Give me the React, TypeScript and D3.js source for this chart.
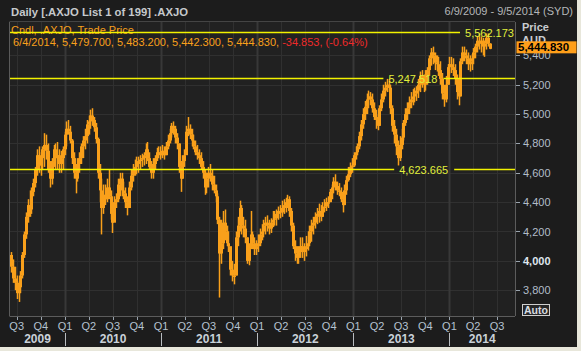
import React from "react";
import * as d3 from "d3";

// weekly bars: [high, low, close]; open = previous close
const firstOpen = 4040;
const bars2009 = [
  [4060, 3920, 3960], [4010, 3850, 3880], [3960, 3800, 3850], [3900, 3740, 3780], [3860, 3720, 3820],
  [3930, 3780, 3900], [4060, 3880, 4040], [4200, 4020, 4180], [4330, 4150, 4300], [4420, 4260, 4380],
  [4480, 4300, 4350], [4500, 4320, 4470], [4560, 4440, 4530], [4640, 4500, 4620], [4760, 4580, 4720],
  [4780, 4600, 4650], [4740, 4580, 4700], [4780, 4620, 4760], [4870, 4640, 4790], [4860, 4690, 4750],
  [4800, 4600, 4620], [4680, 4500, 4560], [4700, 4520, 4680], [4790, 4640, 4760], [4800, 4620, 4700],
  [4810, 4620, 4720], [4760, 4600, 4660], [4750, 4600, 4700], [4780, 4620, 4760], [4880, 4720, 4860],
];
const bars2010 = [
  [4950, 4780, 4900], [4960, 4860, 4880], [4920, 4800, 4820], [4830, 4660, 4700], [4740, 4560, 4600],
  [4640, 4460, 4560], [4700, 4540, 4660], [4740, 4600, 4700], [4800, 4660, 4780], [4850, 4700, 4820],
  [4900, 4760, 4850], [4960, 4800, 4930], [4990, 4860, 4950], [5030, 4900, 4990], [5040, 4920, 4960],
  [4980, 4880, 4910], [4940, 4800, 4830], [4840, 4560, 4600], [4660, 4400, 4480], [4560, 4180, 4360],
  [4520, 4320, 4450], [4520, 4380, 4420], [4560, 4400, 4500], [4620, 4420, 4440], [4480, 4280, 4320],
  [4400, 4190, 4260], [4440, 4280, 4400], [4460, 4360, 4420], [4560, 4400, 4520], [4600, 4440, 4560],
  [4600, 4440, 4480], [4540, 4420, 4460], [4500, 4360, 4400], [4440, 4310, 4360], [4540, 4380, 4500],
  [4620, 4480, 4580], [4660, 4540, 4620], [4690, 4580, 4640], [4710, 4590, 4660], [4710, 4600, 4680],
  [4720, 4620, 4690], [4730, 4640, 4700], [4740, 4650, 4720], [4800, 4660, 4760], [4810, 4680, 4700],
  [4740, 4620, 4640], [4680, 4560, 4600], [4700, 4560, 4660], [4720, 4620, 4700], [4770, 4680, 4740],
  [4780, 4700, 4740], [4780, 4690, 4720],
];
const bars2011 = [
  [4790, 4700, 4750], [4780, 4690, 4720], [4810, 4720, 4780], [4860, 4760, 4820], [4900, 4800, 4870],
  [4940, 4840, 4920], [4950, 4860, 4900], [4920, 4800, 4840], [4870, 4760, 4800], [4800, 4600, 4640],
  [4680, 4470, 4560], [4720, 4560, 4680], [4760, 4640, 4720], [4920, 4760, 4880], [4980, 4850, 4900],
  [4930, 4830, 4860], [4900, 4780, 4820], [4860, 4760, 4780], [4820, 4720, 4740], [4790, 4690, 4720],
  [4760, 4660, 4700], [4740, 4620, 4640], [4680, 4560, 4600], [4620, 4450, 4500], [4600, 4460, 4560],
  [4640, 4500, 4600], [4660, 4540, 4580], [4620, 4480, 4520], [4580, 4460, 4480], [4520, 4400, 4440],
  [4460, 4250, 4280], [4300, 3750, 4050], [4280, 3980, 4120], [4340, 4080, 4260], [4350, 4140, 4200],
  [4240, 4100, 4120], [4200, 4060, 4100], [4080, 3900, 3940], [4000, 3860, 3900], [3980, 3840, 3900],
  [4200, 3900, 4160], [4300, 4100, 4240], [4410, 4200, 4360], [4380, 4180, 4240], [4300, 4160, 4220],
  [4280, 4120, 4160], [4160, 3980, 4000], [4120, 3970, 4080], [4340, 4120, 4180], [4200, 4100, 4120],
  [4160, 4040, 4080], [4140, 4040, 4100],
];
const bars2012 = [
  [4180, 4060, 4120], [4220, 4100, 4180], [4250, 4140, 4200], [4280, 4160, 4240], [4300, 4180, 4260],
  [4310, 4200, 4240], [4280, 4180, 4220], [4290, 4190, 4260], [4340, 4230, 4280], [4340, 4240, 4290],
  [4350, 4240, 4320], [4370, 4280, 4340], [4380, 4290, 4330], [4410, 4300, 4360], [4420, 4320, 4380],
  [4430, 4330, 4400], [4450, 4360, 4420], [4440, 4300, 4340], [4360, 4200, 4240], [4260, 4080, 4100],
  [4140, 4000, 4050], [4100, 3980, 4020], [4100, 3980, 4060], [4160, 4020, 4100], [4160, 4020, 4060],
  [4120, 4000, 4080], [4170, 4030, 4100], [4200, 4070, 4120], [4240, 4100, 4200], [4280, 4130, 4240],
  [4300, 4180, 4260], [4330, 4220, 4300], [4360, 4250, 4320], [4390, 4260, 4340], [4380, 4270, 4300],
  [4400, 4300, 4360], [4420, 4330, 4370], [4430, 4340, 4400], [4440, 4360, 4400], [4490, 4400, 4470],
  [4520, 4420, 4500], [4570, 4460, 4540], [4590, 4480, 4510], [4540, 4450, 4480], [4530, 4440, 4470],
  [4500, 4400, 4420], [4460, 4330, 4380], [4520, 4380, 4480], [4580, 4450, 4550], [4640, 4540, 4590],
  [4670, 4570, 4640], [4700, 4600, 4650],
];
const bars2013 = [
  [4740, 4640, 4720], [4780, 4690, 4740], [4800, 4720, 4780], [4880, 4760, 4850], [4960, 4820, 4930],
  [5040, 4900, 5000], [5090, 4960, 5050], [5140, 5000, 5100], [5160, 5040, 5120], [5150, 5060, 5100],
  [5140, 5010, 5040], [5080, 4960, 4980], [5030, 4900, 4960], [5000, 4890, 4920], [5060, 4920, 5040],
  [5140, 5020, 5100], [5200, 5080, 5160], [5220, 5120, 5180], [5240, 5150, 5200], [5240, 5150, 5180],
  [5200, 5000, 5040], [5060, 4880, 4920], [4960, 4800, 4860], [4900, 4720, 4780], [4820, 4650, 4700],
  [4850, 4680, 4790], [4900, 4760, 4840], [4960, 4820, 4940], [5040, 4920, 5000], [5080, 4960, 5040],
  [5120, 5000, 5080], [5150, 5040, 5100], [5170, 5060, 5120], [5180, 5080, 5140], [5190, 5090, 5160],
  [5240, 5110, 5200], [5290, 5150, 5260], [5300, 5180, 5220], [5270, 5150, 5200], [5300, 5160, 5260],
  [5320, 5200, 5300], [5400, 5260, 5380], [5450, 5330, 5420], [5460, 5340, 5400], [5420, 5300, 5350],
  [5400, 5290, 5340], [5390, 5260, 5300], [5360, 5200, 5240], [5280, 5100, 5140], [5200, 5050, 5100],
  [5260, 5080, 5200], [5340, 5200, 5320],
];
const bars2014 = [
  [5390, 5270, 5340], [5390, 5280, 5320], [5380, 5260, 5300], [5340, 5200, 5240], [5270, 5100, 5150],
  [5200, 5060, 5120], [5380, 5150, 5360], [5460, 5340, 5420], [5460, 5360, 5400], [5440, 5340, 5380],
  [5420, 5300, 5340], [5400, 5290, 5360], [5410, 5300, 5380], [5450, 5340, 5420], [5480, 5380, 5460],
  [5530, 5420, 5500], [5550, 5440, 5480], [5530, 5420, 5500], [5520, 5400, 5460], [5500, 5390, 5480],
  [5550, 5440, 5520], [5550, 5460, 5480], [5483.2, 5442.3, 5444.83],
];

const firstWeek = new Date(2009, 5, 10);
const rangeStart = new Date(2009, 5, 9);
const rangeEnd = new Date(2014, 8, 5);

const priceTicks = [3800, 4000, 4200, 4400, 4600, 4800, 5000, 5200, 5400];
const boldTicks = [4000];
const years = [2009, 2010, 2011, 2012, 2013, 2014];

const levelValues = [5562.173, 5247.518, 4623.665];
const levelDates = [new Date(2014, 4, 14), new Date(2013, 4, 14), new Date(2013, 5, 24)];

const lastQuote = ["6/4/2014", "5,479.700", "5,483.200", "5,442.300", "5,444.830"];
const lastChange = "-34.853, (-0.64%)";
const lastClose = 5444.83;

const font = "'Liberation Sans', Arial, sans-serif";
const orange = "#f9a01b";

export default function App() {
  const W = 581, H = 351;
  const left = 10, right = 515, top = 22, bottom = 316;

  const x = d3.scaleTime().domain([rangeStart, rangeEnd]).range([10.9, 514.4]);
  const y = d3.scaleLinear().domain([3800, 5400]).range([290.2, 55.4]);

  const allBars = [...bars2009, ...bars2010, ...bars2011, ...bars2012, ...bars2013, ...bars2014];
  const candles = allBars.map((b, i) => ({
    date: d3.timeDay.offset(firstWeek, 7 * i),
    open: i === 0 ? firstOpen : allBars[i - 1][2],
    high: b[0],
    low: b[1],
    close: b[2],
  }));

  const quarters = d3.timeMonth.every(3)!.range(rangeStart, rangeEnd);
  const yearStarts = years.slice(1).map((yr) => new Date(yr, 0, 1));
  const px = (v: number) => Math.round(v) + 0.5;
  const fmt = d3.format(",.3f");
  const labelW = 49;

  return (
    <svg width={W} height={H} style={{ position: "fixed", left: 0, top: 0 }} fontFamily={font}>
      <defs>
        <clipPath id="plot">
          <rect x={left} y={top} width={right - left} height={bottom - top} />
        </clipPath>
      </defs>
      <rect width={W} height={H} fill="#e8e7db" />
      <rect width={577} height={347} fill="#1c1c1c" />
      <rect x={left} y={top} width={right - left} height={bottom - top} fill="#212121" />

      {/* grid */}
      {priceTicks.map((v) => (
        <line key={v} x1={left} x2={right} y1={px(y(v))} y2={px(y(v))} stroke="#303030" />
      ))}
      {quarters.map((d) => {
        const isYear = d.getMonth() === 0;
        return (
          <line key={+d} x1={px(x(d))} x2={px(x(d))} y1={top} y2={bottom}
            stroke={isYear ? "#383838" : "#303030"} strokeWidth={isYear ? 2 : 1} />
        );
      })}
      <line x1={9.5} x2={9.5} y1={top} y2={bottom} stroke="#5a5a5a" />
      <line x1={9.5} x2={right} y1={21.5} y2={21.5} stroke="#444" />
      <line x1={right + 0.5} x2={right + 0.5} y1={top} y2={bottom} stroke="#5c5c5c" />
      <line x1={9.5} x2={right} y1={bottom + 0.5} y2={bottom + 0.5} stroke="#5c5c5c" />

      {/* header */}
      <text x={11} y={15.5} fontSize={11} fontWeight="bold" fill="#c6c9cc" textLength={177} lengthAdjust="spacingAndGlyphs">
        Daily [.AXJO List 1 of 199] .AXJO
      </text>
      <text x={573} y={15} fontSize={11} fill="#b4b6b8" textAnchor="end">
        6/9/2009 - 9/5/2014 (SYD)
      </text>

      {/* legend */}
      <text x={11} y={34} fontSize={11} fill={orange}>Cndl, .AXJO, Trade Price</text>
      <text x={13} y={46} fontSize={11} fill={orange}>
        {lastQuote.join(", ") + ", "}
        <tspan fill="#ef2a2a">{lastChange}</tspan>
      </text>

      {/* candles */}
      <g clipPath="url(#plot)">
        {candles.map((c, i) => {
          const cx = Math.round(x(c.date));
          const y0 = y(Math.max(c.open, c.close));
          const y1 = y(Math.min(c.open, c.close));
          return (
            <g key={i}>
              <line x1={cx + 0.5} x2={cx + 0.5} y1={y(c.high)} y2={y(c.low)} stroke={orange} strokeWidth={1.5} />
              <rect x={cx - 1} y={y0} width={3} height={Math.max(1.5, y1 - y0)} fill={orange} />
            </g>
          );
        })}
      </g>

      {/* reference levels */}
      {levelValues.map((v, i) => {
        const ly = px(y(v));
        const lx = Math.min(x(levelDates[i]), right - labelW - 1);
        const resume = lx + labelW + 6;
        return (
          <g key={v}>
            <line x1={left} x2={lx - 5} y1={ly} y2={ly} stroke="#f2f200" strokeWidth={1.5} />
            {resume < right && <line x1={resume} x2={right} y1={ly} y2={ly} stroke="#f2f200" strokeWidth={1.5} />}
            <text x={lx} y={ly + 4} fontSize={11} fill="#e2f03c" textLength={labelW} lengthAdjust="spacingAndGlyphs">
              {fmt(v)}
            </text>
          </g>
        );
      })}

      {/* right axis */}
      {priceTicks.map((v) => (
        <g key={v}>
          <line x1={right + 1} x2={right + 5} y1={px(y(v))} y2={px(y(v))} stroke="#9aa4ae" />
          <text x={523} y={y(v) + 4} fontSize={11} fill={boldTicks.includes(v) ? "#dfe6ee" : "#b2bdc9"}
            fontWeight={boldTicks.includes(v) ? "bold" : "normal"}>
            {d3.format(",")(v)}
          </text>
        </g>
      ))}
      <text x={522} y={31} fontSize={11} fontWeight="bold" fill="#c8ccd0">Price</text>
      <text x={522} y={44} fontSize={11} fontWeight="bold" fill="#c8ccd0">AUD</text>
      <rect x={516.5} y={y(lastClose) - 7.5} width={60} height={12} fill="#ff9f1a" />
      <text x={518} y={y(lastClose) + 2.5} fontSize={11.5} fontWeight="bold" fill="#000">
        {fmt(lastClose)}
      </text>
      <rect x={522.5} y={304.5} width={27} height={11} fill="#262626" stroke="#cfcfcf" />
      <text x={536} y={313.5} fontSize={10.5} fontWeight="bold" fill="#d8dce0" textAnchor="middle">Auto</text>

      {/* bottom axis */}
      {quarters.map((d) => (
        <g key={+d}>
          <line x1={px(x(d))} x2={px(x(d))} y1={bottom + 1} y2={bottom + 4} stroke="#9aa4ae" />
          <text x={x(d)} y={330} fontSize={11} fill="#b4c2d0" textAnchor="middle">
            {"Q" + (Math.floor(d.getMonth() / 3) + 1)}
          </text>
        </g>
      ))}
      {yearStarts.map((d) => (
        <line key={+d} x1={px(x(d))} x2={px(x(d))} y1={333} y2={346} stroke="#b8bcc0" />
      ))}
      {years.map((yr) => {
        const a = Math.max(left, x(new Date(yr, 0, 1)));
        const b = Math.min(right, x(new Date(yr + 1, 0, 1)));
        return (
          <text key={yr} x={(a + b) / 2} y={343} fontSize={12} fontWeight="bold" fill="#c9d1d9" textAnchor="middle">
            {yr}
          </text>
        );
      })}
    </svg>
  );
}
